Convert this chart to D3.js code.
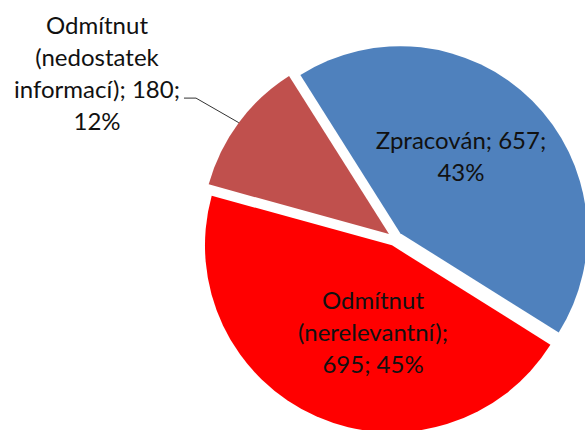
<!DOCTYPE html>
<html>
<head>
<meta charset="utf-8">
<script src="https://cdn.jsdelivr.net/npm/d3@7"></script>
<style>
  body { margin: 0; background: #fff; }
  text { font-family: Lato, "Open Sans", sans-serif; fill: #111; }
</style>
</head>
<body>
<div id="chart"></div>
<script>
// data
var categories = ["Zpracován", "Odmítnut (nerelevantní)", "Odmítnut (nedostatek informací)"];
var values = [657, 695, 180];
var colors = ["#4F81BD", "#FF0000", "#C0504D"];

var total = d3.sum(values);
var pct = values.map(function(v) { return Math.round(v / total * 100) + "%"; });

// label lines, wrapped like the original
var labelLines = [
  [categories[0] + "; " + values[0] + ";", pct[0]],
  ["Odmítnut", "(nerelevantní);", values[1] + "; " + pct[1]],
  ["Odmítnut", "(nedostatek", "informací); " + values[2] + ";", pct[2]]
];

var width = 585, height = 430;
var cx = 395, cy = 238.5, radius = 187, explode = 7.5;
var lineH = 32.3;
// label anchor (center x, first baseline) relative to the pie center
var labelPos = [
  {dx: 66, dy: -90},
  {dx: -22, dy: 70},
  {dx: -298, dy: -205}
];

var svg = d3.select("#chart").append("svg")
    .attr("width", width)
    .attr("height", height);

var g = svg.append("g")
    .attr("transform", "translate(" + cx + "," + cy + ")");

var startA = -32.3 * Math.PI / 180;
var pie = d3.pie().sort(null).value(function(d) { return d; })
    .startAngle(startA).endAngle(startA + 2 * Math.PI);
var arc = d3.arc().innerRadius(0).outerRadius(radius);

var arcs = pie(values);

function offset(d, r) {
  var a = (d.startAngle + d.endAngle) / 2;
  return [Math.sin(a) * r, -Math.cos(a) * r];
}

g.selectAll("path.slice")
  .data(arcs)
  .enter().append("path")
    .attr("class", "slice")
    .attr("transform", function(d) { var o = offset(d, explode); return "translate(" + o[0] + "," + o[1] + ")"; })
    .attr("d", arc)
    .style("fill", function(d, i) { return colors[i]; });

// labels
var labels = g.selectAll("text.lbl")
  .data(arcs)
  .enter().append("text")
    .attr("class", "lbl")
    .attr("text-anchor", "middle")
    .style("font-size", "24px");

labels.each(function(d, i) {
  var t = d3.select(this);
  labelLines[i].forEach(function(line, j) {
    t.append("tspan")
      .attr("x", labelPos[i].dx)
      .attr("y", labelPos[i].dy + j * lineH)
      .text(line);
  });
});

// leader line for the small slice
var small = arcs[2];
var tsp = labels.filter(function(d, i) { return i === 2; }).selectAll("tspan").nodes()[2];
var bb = tsp.getBBox();
var x0 = bb.x + bb.width + 4;
var y0 = labelPos[2].dy + 2 * lineH;
var e = offset(small, explode), p = offset(small, radius);
var x2 = e[0] + p[0], y2 = e[1] + p[1];

g.append("path")
  .attr("d", d3.line()([[x0, y0], [x0 + 12, y0], [x2, y2]]))
  .style("fill", "none")
  .style("stroke", "#333")
  .style("stroke-width", 1);
</script>
</body>
</html>
